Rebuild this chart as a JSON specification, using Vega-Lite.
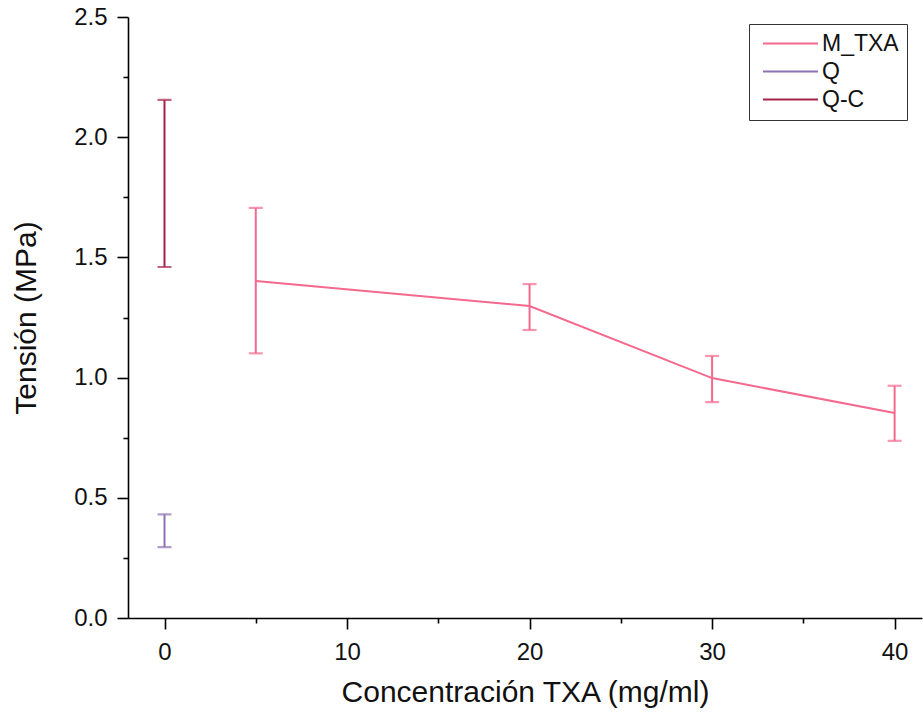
{
  "$schema": "https://vega.github.io/schema/vega-lite/v6.json",
  "width": 794,
  "height": 601,
  "autosize": {"type": "none"},
  "padding": {"left": 128, "top": 17, "right": 1, "bottom": 97},
  "background": "white",
  "config": {
    "view": {"stroke": null},
    "font": "Liberation Sans",
    "axis": {
      "domainColor": "black",
      "domainWidth": 1.6,
      "tickColor": "black",
      "tickWidth": 1.6,
      "grid": false
    }
  },
  "datasets": {
    "pts": [
      {"series": "Q-C", "conc": 0, "mean": null, "lo": 1.46, "hi": 2.155},
      {"series": "Q", "conc": 0, "mean": null, "lo": 0.295, "hi": 0.431},
      {"series": "M_TXA", "conc": 5, "mean": 1.402, "lo": 1.101, "hi": 1.706},
      {"series": "M_TXA", "conc": 20, "mean": 1.298, "lo": 1.198, "hi": 1.389},
      {"series": "M_TXA", "conc": 30, "mean": 0.998, "lo": 0.898, "hi": 1.09},
      {"series": "M_TXA", "conc": 40, "mean": 0.853, "lo": 0.737, "hi": 0.966}
    ]
  },
  "data": {"name": "pts"},
  "layer": [
    {
      "mark": {"type": "point", "opacity": 0},
      "encoding": {
        "x": {"field": "conc", "type": "quantitative",
              "scale": {"domain": [-2, 41.5], "nice": false, "zero": false},
              "axis": {"orient": "bottom", "values": [5, 15, 25, 35], "labels": false, "tickSize": 5, "domain": false, "title": null}},
        "y": {"field": "lo", "type": "quantitative",
              "scale": {"domain": [0, 2.5], "nice": false},
              "axis": {"orient": "left", "values": [0.25, 0.75, 1.25, 1.75, 2.25], "labels": false, "tickSize": 5, "domain": false, "title": null}}
      }
    },
    {
      "mark": {"type": "rule", "strokeWidth": 2},
      "encoding": {
        "x": {"field": "conc", "type": "quantitative",
              "scale": {"domain": [-2, 41.5], "nice": false, "zero": false},
              "axis": {"orient": "bottom", "values": [0, 10, 20, 30, 40], "tickSize": 11, "labelPadding": 11,
                       "labelFontSize": 24, "labelColor": "#111111", "labelFont": "Liberation Sans",
                       "title": "Concentración TXA (mg/ml)", "titleFontSize": 30, "titleFontWeight": "normal", "titleColor": "#111111", "titleFont": "Liberation Sans", "titlePadding": 13}},
        "y": {"field": "lo", "type": "quantitative",
              "scale": {"domain": [0, 2.5], "nice": false},
              "axis": {"orient": "left", "values": [0, 0.5, 1, 1.5, 2, 2.5], "format": ".1f", "tickSize": 11, "labelPadding": 10,
                       "labelFontSize": 24, "labelColor": "#111111", "labelFont": "Liberation Sans",
                       "title": "Tensión (MPa)", "titleFontSize": 30, "titleFontWeight": "normal", "titleColor": "#111111", "titleFont": "Liberation Sans", "titlePadding": 32}},
        "y2": {"field": "hi"},
        "color": {"field": "series", "type": "nominal",
                  "scale": {"domain": ["M_TXA", "Q", "Q-C"], "range": ["#f4698d", "#8b73b3", "#a5234b"]},
                  "legend": {"title": null, "orient": "none", "legendX": 621, "legendY": 7,
                             "symbolType": "M-1,0H9", "symbolSize": 121, "symbolStrokeWidth": 2,
                             "labelFontSize": 23, "labelColor": "#111111", "labelFont": "Liberation Sans",
                             "strokeColor": "#333333", "fillColor": "white", "padding": 8,
                             "rowPadding": 4, "labelOffset": 42}}
      }
    },
    {
      "mark": {"type": "tick", "orient": "horizontal", "size": 14, "thickness": 2.2},
      "encoding": {
        "x": {"field": "conc", "type": "quantitative", "axis": null},
        "y": {"field": "lo", "type": "quantitative", "axis": null},
        "color": {"field": "series", "type": "nominal", "legend": null}
      }
    },
    {
      "mark": {"type": "tick", "orient": "horizontal", "size": 14, "thickness": 2.2},
      "encoding": {
        "x": {"field": "conc", "type": "quantitative", "axis": null},
        "y": {"field": "hi", "type": "quantitative", "axis": null},
        "color": {"field": "series", "type": "nominal", "legend": null}
      }
    },
    {
      "transform": [{"filter": "datum.series == 'M_TXA'"}],
      "mark": {"type": "line", "strokeWidth": 2},
      "encoding": {
        "x": {"field": "conc", "type": "quantitative", "axis": null},
        "y": {"field": "mean", "type": "quantitative", "axis": null},
        "color": {"field": "series", "type": "nominal", "legend": null}
      }
    }
  ],
  "resolve": {"axis": {"x": "independent", "y": "independent"}}
}
